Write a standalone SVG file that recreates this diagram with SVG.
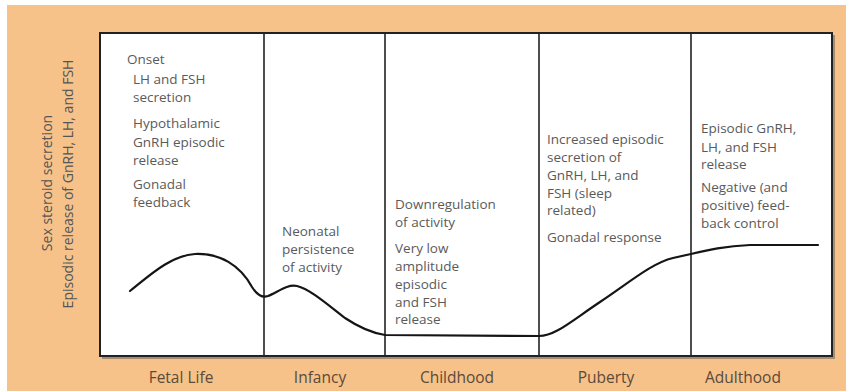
<svg xmlns="http://www.w3.org/2000/svg" width="846" height="391" viewBox="0 0 846 391">
<style>
.t{font-family:"Open Sans","Liberation Sans",sans-serif;font-size:13.5px;fill:#5a5a5a}
.ax{font-family:"Open Sans","Liberation Sans",sans-serif;font-size:14px;fill:#555}
.lb{font-family:"Open Sans","Liberation Sans",sans-serif;font-size:15.5px;fill:#5b4a38;text-anchor:middle}
.div{stroke:#222;stroke-width:1.6}
.curve{fill:none;stroke:#151515;stroke-width:2.2;stroke-linecap:round}
</style>
<rect x="0" y="0" width="846" height="391" fill="#ffffff"/>
<rect x="7" y="5" width="839" height="386" fill="#F6C28A"/>
<rect x="102" y="35" width="733" height="324" fill="#555" opacity="0.5"/>
<rect x="100" y="33" width="732" height="323" fill="#ffffff" stroke="#222" stroke-width="2"/>
<g id="axis">
<text class="ax" transform="translate(52,183) rotate(-90)" text-anchor="middle">Sex steroid secretion</text>
<text class="ax" transform="translate(73,184) rotate(-90)" text-anchor="middle">Episodic release of GnRH, LH, and FSH</text>
</g>
<g id="connectors">
<line class="div" x1="264" y1="33" x2="264" y2="356"/>
<line class="div" x1="385" y1="33" x2="385" y2="356"/>
<line class="div" x1="539" y1="33" x2="539" y2="356"/>
<line class="div" x1="691" y1="33" x2="691" y2="356"/>
<path class="curve" d="M130,291 C150,275 170,256 195,254 C220,253 240,265 252,287 C257,295 262,298 268,296 C278,292 287,284 297,286 C310,289 328,305 345,318 C360,328 372,333 385,335 L539,336 C555,336 570,322 600,302 C630,282 652,263 673,258 L691,254 C708,250 725,246 750,245 L818,245"/>
</g>
<g id="fetal">
<text class="t" x="127" y="64">Onset</text>
<text class="t" x="133" y="84">LH and FSH</text>
<text class="t" x="133" y="102">secretion</text>
<text class="t" x="133" y="128">Hypothalamic</text>
<text class="t" x="133" y="147">GnRH episodic</text>
<text class="t" x="133" y="165">release</text>
<text class="t" x="133" y="189">Gonadal</text>
<text class="t" x="133" y="207">feedback</text>
<text class="lb" x="181" y="383">Fetal Life</text>
</g>
<g id="infancy">
<text class="t" x="282" y="236">Neonatal</text>
<text class="t" x="282" y="254">persistence</text>
<text class="t" x="282" y="272">of activity</text>
<text class="lb" x="320" y="383">Infancy</text>
</g>
<g id="childhood">
<text class="t" x="395" y="209">Downregulation</text>
<text class="t" x="395" y="227">of activity</text>
<text class="t" x="395" y="253">Very low</text>
<text class="t" x="395" y="271">amplitude</text>
<text class="t" x="395" y="289">episodic</text>
<text class="t" x="395" y="307">and FSH</text>
<text class="t" x="395" y="324">release</text>
<text class="lb" x="457" y="383">Childhood</text>
</g>
<g id="puberty">
<text class="t" x="547" y="144">Increased episodic</text>
<text class="t" x="547" y="162">secretion of</text>
<text class="t" x="547" y="180">GnRH, LH, and</text>
<text class="t" x="547" y="198">FSH (sleep</text>
<text class="t" x="547" y="215">related)</text>
<text class="t" x="547" y="242">Gonadal response</text>
<text class="lb" x="606" y="383">Puberty</text>
</g>
<g id="adulthood">
<text class="t" x="701" y="133">Episodic GnRH,</text>
<text class="t" x="701" y="152">LH, and FSH</text>
<text class="t" x="701" y="169">release</text>
<text class="t" x="701" y="192">Negative (and</text>
<text class="t" x="701" y="210">positive) feed-</text>
<text class="t" x="701" y="228">back control</text>
<text class="lb" x="743" y="383">Adulthood</text>
</g>
</svg>
